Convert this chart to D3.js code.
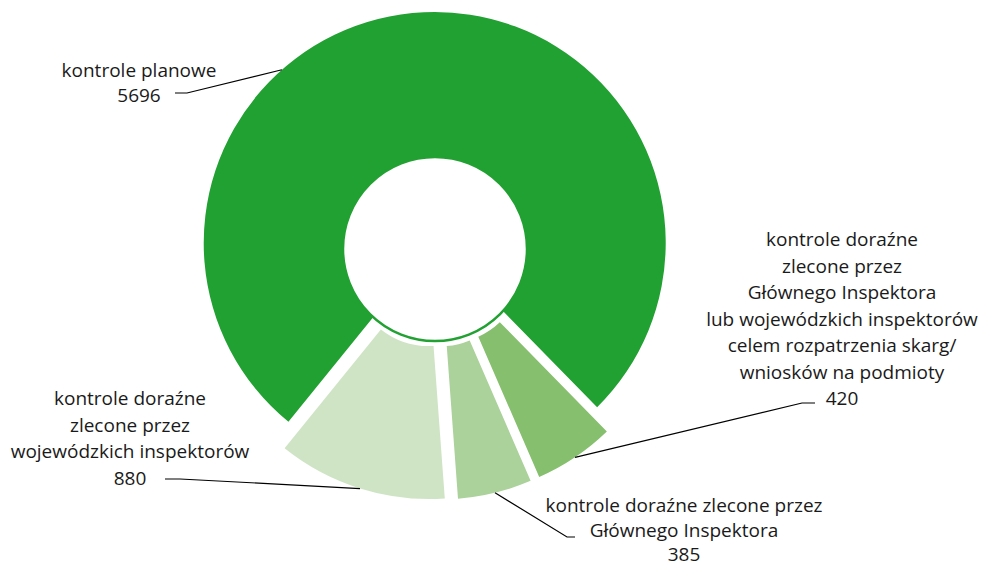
<!DOCTYPE html>
<html>
<head>
<meta charset="utf-8">
<script src="https://cdn.jsdelivr.net/npm/d3@7"></script>
<style>
  body { margin: 0; background: #fff; }
  svg text { font-family: "Open Sans", "Noto Sans", sans-serif; fill: #1a1a1a; }
</style>
</head>
<body>
<div id="chart"></div>
<script>
var svgWidth = 983;
var svgHeight = 567;

// data
var categories = [
    ["kontrole planowe"],
    ["kontrole doraźne", "zlecone przez", "Głównego Inspektora", "lub wojewódzkich inspektorów", "celem rozpatrzenia skarg/", "wniosków na podmioty"],
    ["kontrole doraźne zlecone przez", "Głównego Inspektora"],
    ["kontrole doraźne", "zlecone przez", "wojewódzkich inspektorów"]
];
var values = [5696, 420, 385, 880];
var colors = ["#21a131", "#86bf6e", "#abd29a", "#cfe4c5"];

// layout
var cx = 435, cy = 249;
var outerR = 231, innerR = 78, holeR = 92;
var explode = [6, 20, 20, 20];
var anchorFrac = [0.36, 0.5, 0.5, 0.5];   // where the leader line touches the slice
var labelPos = [
    {x: 139, y: 77, lh: 25, lx: 175, ly: 93, kx: 187},
    {x: 842, y: 246, lh: 26.5, lx: 815, ly: 403, kx: 802},
    {x: 684, y: 512, lh: 24.5, lx: 575, ly: 537, kx: 567},
    {x: 130, y: 405, lh: 26.5, lx: 165, ly: 479, kx: 180}
];

var svg = d3.select("#chart")
    .append("svg")
    .attr("width", svgWidth)
    .attr("height", svgHeight);

var pie = d3.pie()
    .sort(null)
    .startAngle(219 * Math.PI / 180)
    .endAngle(219 * Math.PI / 180 + 2 * Math.PI)
    .padAngle(0.01);

var arcs = pie(values);

var bigArc = d3.arc().innerRadius(60).outerRadius(outerR);
var smallArc = d3.arc().innerRadius(innerR).outerRadius(outerR);

function offset(d, i) {
    var mid = (d.startAngle + d.endAngle) / 2;
    return [explode[i] * Math.sin(mid), -explode[i] * Math.cos(mid)];
}

var chartGroup = svg.append("g")
    .attr("transform", `translate(${cx}, ${cy})`);

// big slice first, then the hole, then the exploded small slices
var o0 = offset(arcs[0], 0);
chartGroup.append("path")
    .attr("d", bigArc(arcs[0]))
    .attr("transform", `translate(${o0[0]}, ${o0[1]})`)
    .attr("fill", colors[0]);

chartGroup.append("circle")
    .attr("r", holeR)
    .attr("fill", "#fff")
    .attr("stroke", colors[0])
    .attr("stroke-width", 2.5);

chartGroup.selectAll("path.small")
    .data(arcs.slice(1))
    .enter()
    .append("path")
    .attr("class", "small")
    .attr("d", smallArc)
    .attr("transform", (d, j) => {
        var o = offset(d, j + 1);
        return `translate(${o[0]}, ${o[1]})`;
    })
    .attr("fill", (d, j) => colors[j + 1]);

// leader lines
arcs.forEach(function (d, i) {
    var o = offset(d, i);
    var a = d.startAngle + (d.endAngle - d.startAngle) * anchorFrac[i];
    var ex = cx + o[0] + outerR * Math.sin(a);
    var ey = cy + o[1] - outerR * Math.cos(a);
    var p = labelPos[i];
    svg.append("path")
        .attr("d", d3.line()([[p.lx, p.ly], [p.kx, p.ly], [ex, ey]]))
        .attr("fill", "none")
        .attr("stroke", "#000")
        .attr("stroke-width", 1.2);
});

// labels
arcs.forEach(function (d, i) {
    var p = labelPos[i];
    var lines = categories[i].concat([String(values[i])]);
    var t = svg.append("text")
        .attr("text-anchor", "middle")
        .attr("font-size", "19px");
    lines.forEach(function (s, k) {
        t.append("tspan")
            .attr("x", p.x)
            .attr("y", p.y + k * p.lh)
            .text(s);
    });
});
</script>
</body>
</html>
